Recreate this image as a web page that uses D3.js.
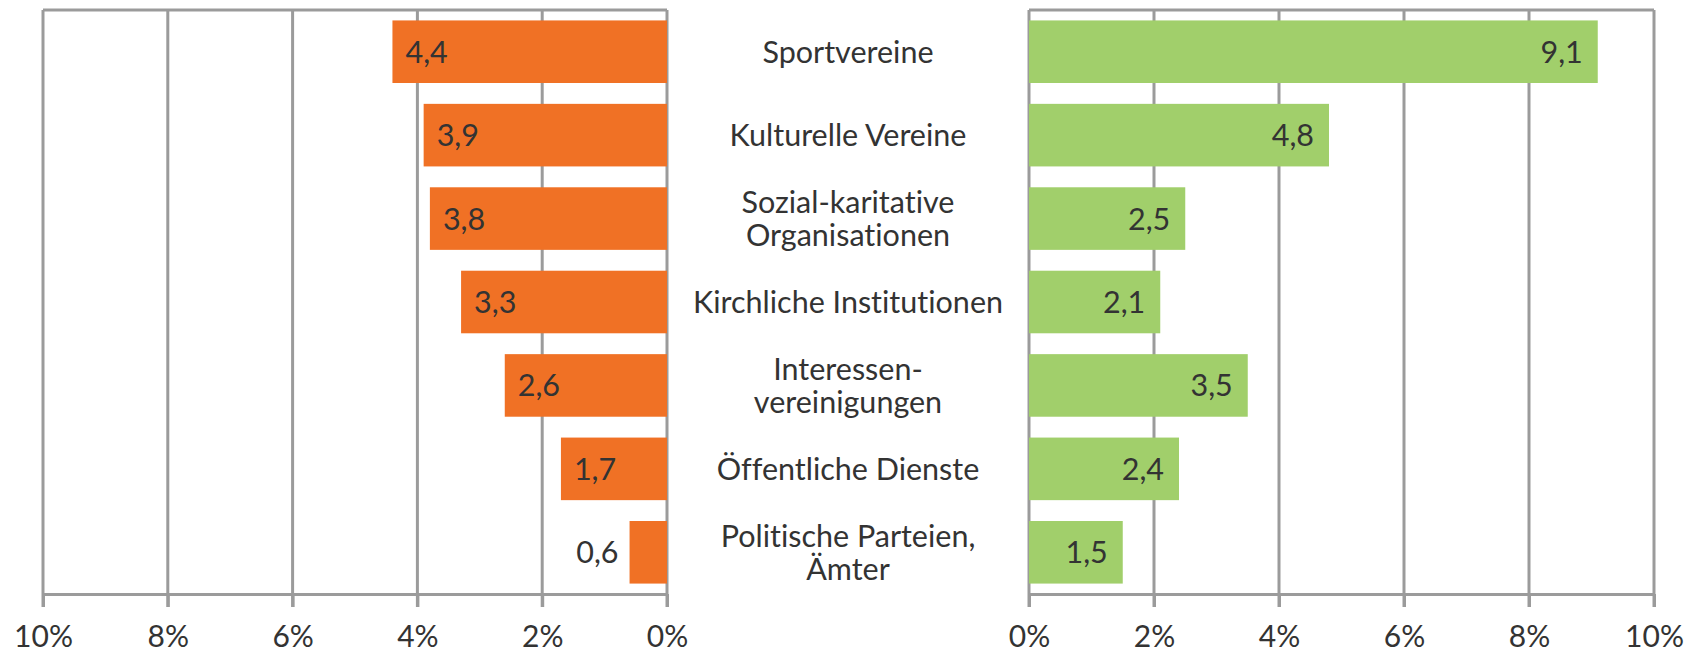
<!DOCTYPE html>
<html><head><meta charset="utf-8">
<script src="https://cdn.jsdelivr.net/npm/d3@7"></script>
<style>
html,body{margin:0;padding:0;background:#fff;}
svg{display:block;}
text{font-family:Lato, "Open Sans", sans-serif;fill:#333;font-weight:400;font-variant-ligatures:none;}
</style></head>
<body>
<svg id="chart" width="1702" height="654"></svg>
<script>
const categories = [
  ["Sportvereine"],
  ["Kulturelle Vereine"],
  ["Sozial-karitative", "Organisationen"],
  ["Kirchliche Institutionen"],
  ["Interessen-", "vereinigungen"],
  ["Öffentliche Dienste"],
  ["Politische Parteien,", "Ämter"]
];
const leftValues = [4.4, 3.9, 3.8, 3.3, 2.6, 1.7, 0.6];
const rightValues = [9.1, 4.8, 2.5, 2.1, 3.5, 2.4, 1.5];
const tickValues = [0, 2, 4, 6, 8, 10];

const svg = d3.select("#chart");
const topY = 10, axisY = 594;
const fs = 30.5;
const ids = categories.map((c, i) => i);
const y = d3.scaleBand().domain(ids).range([topY, axisY]).paddingInner(0.25).paddingOuter(0.125);
const xL = d3.scaleLinear().domain([10, 0]).range([43, 667]);
const xR = d3.scaleLinear().domain([0, 10]).range([1029, 1654]);
const fmt = v => d3.format(".1f")(v).replace(".", ",");
const grid = "#9b9b9b";

function panel(x) {
  const g = svg.append("g");
  g.append("line").attr("x1", x(x.domain()[0])).attr("x2", x(x.domain()[1]))
    .attr("y1", topY).attr("y2", topY).attr("stroke", grid).attr("stroke-width", 3);
  g.selectAll("line.grid").data(tickValues).join("line").attr("class", "grid")
    .attr("x1", d => x(d)).attr("x2", d => x(d))
    .attr("y1", topY).attr("y2", axisY + 13)
    .attr("stroke", grid).attr("stroke-width", 3);
  const ax = svg.append("g").attr("transform", `translate(0,${axisY})`)
    .call(d3.axisBottom(x).tickValues(tickValues).tickSize(13).tickSizeOuter(0).tickFormat(d => d + "%"));
  ax.select(".domain").attr("stroke", grid).attr("stroke-width", 3);
  ax.selectAll(".tick line").attr("stroke", grid).attr("stroke-width", 3);
  ax.selectAll(".tick text").attr("font-size", 30).attr("font-family", "Lato, 'Open Sans', sans-serif")
    .attr("fill", "#333").attr("y", 32).attr("dy", "0.71em");
}
panel(xL);
panel(xR);

svg.append("g").selectAll("rect").data(leftValues).join("rect")
  .attr("x", d => xL(d)).attr("width", d => xL(0) - xL(d))
  .attr("y", (d, i) => y(i)).attr("height", y.bandwidth())
  .attr("fill", "#f07125");
svg.append("g").selectAll("text").data(leftValues).join("text")
  .attr("x", d => d < 1 ? xL(d) - 11 : xL(d) + 13)
  .attr("text-anchor", d => d < 1 ? "end" : "start")
  .attr("y", (d, i) => y(i) + y.bandwidth() / 2).attr("dy", "0.36em")
  .attr("font-size", fs).text(fmt);

svg.append("g").selectAll("rect").data(rightValues).join("rect")
  .attr("x", xR(0)).attr("width", d => xR(d) - xR(0))
  .attr("y", (d, i) => y(i)).attr("height", y.bandwidth())
  .attr("fill", "#a1cf6b");
svg.append("g").selectAll("text").data(rightValues).join("text")
  .attr("x", d => xR(d) - 15)
  .attr("text-anchor", "end")
  .attr("y", (d, i) => y(i) + y.bandwidth() / 2).attr("dy", "0.36em")
  .attr("font-size", fs).text(fmt);

const cx = (xL(0) + xR(0)) / 2;
const lab = svg.append("g").selectAll("text").data(categories).join("text")
  .attr("x", cx).attr("text-anchor", "middle").attr("font-size", fs)
  .attr("y", (d, i) => y(i) + y.bandwidth() / 2);
lab.each(function(d) {
  const t = d3.select(this);
  const lh = 33;
  d.forEach((line, j) => {
    t.append("tspan").attr("x", cx)
      .attr("dy", j === 0 ? (0.36 * fs - (d.length - 1) * lh / 2) + "px" : lh + "px")
      .text(line);
  });
});
</script>
</body></html>
